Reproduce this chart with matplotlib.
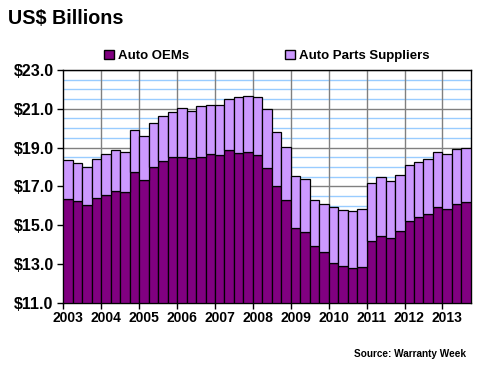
import numpy as np
import matplotlib
matplotlib.use('Agg')
import matplotlib.pyplot as plt
from matplotlib.patches import Patch

plt.rcParams['font.family'] = ['Liberation Sans', 'DejaVu Sans']
plt.rcParams['font.weight'] = 'bold'

# Quarterly totals, 2003 Q1 .. 2013 Q3
years = ['2003', '2004', '2005', '2006', '2007', '2008', '2009', '2010', '2011', '2012', '2013']
oems = [16.33, 16.23, 16.02, 16.40, 16.54, 16.74, 16.69, 17.72,
        17.33, 17.98, 18.31, 18.50, 18.50, 18.44, 18.50, 18.65,
        18.60, 18.86, 18.70, 18.75, 18.60, 17.93, 17.00, 16.28,
        14.83, 14.63, 13.91, 13.60, 13.03, 12.87, 12.77, 12.82,
        14.16, 14.42, 14.32, 14.68, 15.20, 15.40, 15.56, 15.92,
        15.81, 16.07, 16.18]
total = [18.34, 18.19, 17.98, 18.39, 18.65, 18.86, 18.75, 19.89,
         19.58, 20.27, 20.61, 20.82, 21.02, 20.87, 21.13, 21.18,
         21.18, 21.49, 21.59, 21.64, 21.59, 20.97, 19.79, 19.01,
         17.52, 17.36, 16.28, 16.07, 15.92, 15.76, 15.71, 15.81,
         17.16, 17.46, 17.26, 17.57, 18.08, 18.24, 18.39, 18.75,
         18.65, 18.91, 18.96]
suppliers = [t - o for t, o in zip(total, oems)]

c_oem = '#800080'
c_sup = '#CC99FF'

fig = plt.figure(figsize=(4.8, 3.8), dpi=100)
ax = fig.add_axes([0.132, 0.2034, 0.849, 0.6124])

x = np.arange(len(oems))
ybase = 11.0
ax.bar(x, np.array(oems) - ybase, bottom=ybase, width=1.0, color=c_oem,
       edgecolor='black', linewidth=0.9, zorder=3)
ax.bar(x, suppliers, bottom=oems, width=1.0, color=c_sup,
       edgecolor='black', linewidth=0.9, zorder=3)

ax.set_xlim(-0.5, len(oems) - 0.5)
ax.set_ylim(11, 23)

# grid: minor light blue every 0.5, major gray every 2
for yv in np.arange(11, 23.01, 0.5):
    if abs((yv - 11) % 2) < 1e-6:
        ax.axhline(yv, color='#808080', linewidth=1.0, zorder=1)
    else:
        ax.axhline(yv, color='#99CCFF', linewidth=1.0, zorder=0.5)
bounds = np.arange(0, len(oems), 4) - 0.5
for b in bounds[1:]:
    ax.axvline(b, color='#808080', linewidth=1.0, zorder=1)

ax.set_yticks(np.arange(11, 23.01, 2))
ax.set_yticklabels(['$%.1f' % v for v in np.arange(11, 23.01, 2)], fontsize=11.5, fontweight='bold')
ax.tick_params(axis='y', length=4, width=1, pad=3)

ax.set_xticks(bounds)
ax.set_xticklabels([])
ax.tick_params(axis='x', which='major', length=4, width=1, direction='out')
ax.set_xticks(np.arange(0, len(oems), 4), minor=True)
ax.set_xticklabels(years, minor=True, fontsize=10, fontweight='bold')
ax.tick_params(axis='x', which='minor', length=0, pad=6)

for s in ax.spines.values():
    s.set_linewidth(1.0)
    s.set_color('black')

fig.text(8 / 480, 1 - 18 / 380, 'US$ Billions', fontsize=14.2, fontweight='bold', va='center', ha='left')

handles = [Patch(facecolor=c_oem, edgecolor='black', label='Auto OEMs'),
           Patch(facecolor=c_sup, edgecolor='black', label='Auto Parts Suppliers')]
fig.legend(handles=handles, loc='center left', bbox_to_anchor=(92 / 480, 1 - 56 / 380),
           ncol=2, frameon=False, handlelength=0.75, handleheight=0.75,
           handletextpad=0.3, columnspacing=7.3, prop={'weight': 'bold', 'size': 9.5})

fig.text(466 / 480, 1 - 354 / 380, 'Source: Warranty Week', fontsize=7.2, fontweight='bold',
         ha='right', va='center')

fig.savefig('out.png', dpi=100)
